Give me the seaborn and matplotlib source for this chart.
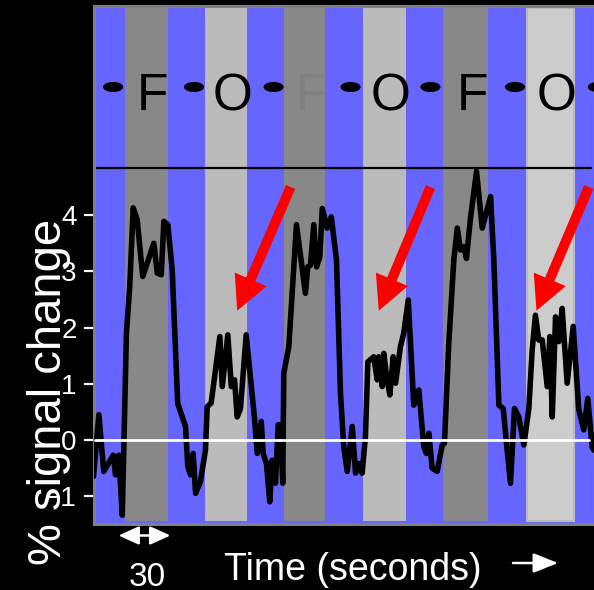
import matplotlib
matplotlib.use("Agg")
import matplotlib.pyplot as plt
import seaborn as sns
import pandas as pd
from matplotlib.patches import Ellipse

# BOLD time course (% signal change) sampled over the run, in seconds
time_s = [0.0, 3.1, 5.9, 11.4, 12.7, 14.6, 16.6, 19.0, 20.9, 22.9, 25.2, 28.4,
          31.9, 34.8, 36.8, 39.1, 40.6, 42.9, 45.4, 48.6, 53.1, 54.4, 56.0,
          57.5, 58.9, 61.7, 64.6, 65.6, 67.9, 72.9, 74.3, 77.5, 79.5, 81.4,
          82.9, 84.8, 88.1, 92.9, 94.5, 96.8, 97.9, 99.8, 101.7, 103.1, 105.0,
          106.6, 107.9, 109.2, 109.8, 112.7, 117.1, 122.3, 123.6, 125.2, 127.1,
          128.7, 130.6, 132.0, 134.8, 137.2, 140.2, 142.5, 144.4, 146.4, 149.3,
          151.2, 153.1, 155.0, 156.9, 158.3, 161.7, 163.7, 164.6, 166.6, 167.5,
          169.1, 171.0, 172.9, 174.3, 177.1, 179.0, 181.6, 184.8, 187.7, 190.6,
          192.1, 193.5, 195.4, 198.3, 201.2, 202.5, 205.0, 207.9, 209.9, 211.8,
          213.7, 215.2, 217.5, 221.0, 224.3, 229.1, 231.0, 233.9, 236.4, 238.3,
          240.6, 242.9, 245.4, 248.3, 251.2, 253.1, 255.0, 256.9, 258.9, 261.8,
          263.3, 264.7, 266.6, 268.5, 270.4, 273.3, 276.8, 280.0, 282.9, 285.2,
          287.7, 288.7]
signal_pct = [-0.65, 0.45, -0.56, -0.27, -0.62, -0.27, -1.34, 1.90, 2.73, 4.13,
              3.92, 2.91, 3.23, 3.50, 2.97, 2.94, 3.89, 3.83, 3.03, 0.65, 0.24,
              -0.47, -0.62, -0.24, -0.95, -0.74, -0.18, 0.59, 0.66, 1.84, 0.95,
              1.87, 0.95, 1.07, 0.41, 0.56, 1.87, 0.39, -0.24, 0.33, -0.24,
              -0.42, -1.10, -0.36, -0.77, 0.27, 0.27, -0.77, 1.19, 1.66, 3.83,
              2.61, 3.08, 3.11, 3.83, 3.08, 3.26, 4.12, 3.77, 3.97, 3.20, 0.83,
              -0.12, -0.56, 0.24, -0.59, -0.42, -0.59, 0.06, 1.39, 1.48, 1.07,
              1.48, 0.95, 1.54, 1.13, 0.80, 1.48, 1.01, 1.66, 1.90, 2.49, 0.62,
              0.89, -0.12, -0.24, 0.12, -0.50, -0.56, -0.09, -0.06, 1.72, 3.20,
              3.77, 3.38, 3.44, 3.23, 3.94, 4.78, 3.77, 4.33, 3.20, 0.62, 0.56,
              -0.06, -0.77, 0.56, 0.41, -0.09, 0.56, 1.60, 2.22, 1.78, 1.78,
              0.95, 1.84, 0.41, 2.19, 1.75, 2.34, 1.01, 2.02, 0.54, 0.18, 0.74,
              -0.12, -0.18]

# Stimulation blocks: F = faces, O = objects
block_onsets = [17.9, 64.6, 110.2, 155.4, 201.9, 250.0]
block_offsets = [42.9, 88.7, 133.7, 180.4, 227.9, 277.0]
block_labels = ["F", "O", "F", "O", "F", "O"]
rest_marks = [11.3, 58.0, 103.9, 148.3, 194.4, 243.2, 291.0]

# Arrows pointing at the object-block responses (tail -> tip)
arrow_tail_t = [113.7, 194.4, 285.8]
arrow_tail_v = [4.50, 4.50, 4.50]
arrow_tip_t = [82.9, 164.6, 255.6]
arrow_tip_v = [2.30, 2.30, 2.30]

ytick_values = [-1, 0, 1, 2, 3, 4]
scale_bar_s = 30

sns.set_style("ticks")
plt.rcParams["font.family"] = ["Liberation Sans", "DejaVu Sans"]

W, H = 594, 590
fig = plt.figure(figsize=(W / 100, H / 100), dpi=100, facecolor="black")
ax = fig.add_axes([93.5 / W, (H - 523.5) / H, (W - 93.5) / W, (523.5 - 5.5) / H])
ax.set_facecolor("#6666ff")

x_max = (W - 93.5) * 0.577
ax.set_xlim(0, x_max)
ax.set_ylim(-1.486, 7.73)

block_fill = {"F": "#888888", "O": "#bbbbbb"}
for i, (on, off, lab) in enumerate(zip(block_onsets, block_offsets, block_labels)):
    fc = block_fill[lab]
    ec = "none"
    if i == len(block_onsets) - 1:
        fc, ec = "#cccccc", "#bbbbbb"
    ax.axvspan(on, off, ymin=0.004, ymax=0.996, facecolor=fc, edgecolor=ec,
               lw=1.5, zorder=0.5)

# Block letters and rest markers along the top strip
label_colors = ["black", "black", "#818181", "black", "black", "black"]
for on, off, lab, col in zip(block_onsets, block_offsets, block_labels, label_colors):
    ax.text((on + off) / 2 + 3.7, 5.87, lab, ha="center", va="baseline",
            fontsize=37, color=col, zorder=3)
for t in rest_marks:
    ax.add_patch(Ellipse((t, 6.28), width=11.6, height=0.18, facecolor="black",
                         edgecolor="none", zorder=3, clip_on=True))

ax.plot([0, 287], [4.84, 4.84], color="black", lw=1.6, zorder=2)

df = pd.DataFrame({"time": time_s, "signal": signal_pct})
sns.lineplot(data=df, x="time", y="signal", ax=ax, color="black", lw=4.0,
             estimator=None, sort=False, zorder=4)

ax.plot([1, 286], [0, 0], color="white", lw=2, zorder=5)

for tt, tv, pt, pv in zip(arrow_tail_t, arrow_tail_v, arrow_tip_t, arrow_tip_v):
    ax.annotate("", xy=(pt, pv), xytext=(tt, tv), annotation_clip=False,
                arrowprops=dict(arrowstyle="simple,head_length=2.45,head_width=2.5,tail_width=0.72",
                                mutation_scale=10, facecolor="red", edgecolor="none",
                                shrinkA=0, shrinkB=0), zorder=6)

ax.set_xticks([])
ax.set_yticks(ytick_values)
ax.set_yticklabels([f"{v}".replace("-", "\u2212") for v in ytick_values])
ax.tick_params(axis="y", colors="white", labelcolor="white", labelsize=20,
               length=7, width=1.6, pad=5)
ax.set_xlabel("")
ax.set_ylabel("")
for side in ("left", "top", "bottom"):
    ax.spines[side].set_color("#808080")
    ax.spines[side].set_linewidth(2.2)
ax.spines["right"].set_visible(False)

# Scale bar under the axis
sb_trans = matplotlib.transforms.blended_transform_factory(ax.transData, fig.transFigure)
sb_y = (H - 535.5) / H
sb_start = 14.4
ax.annotate("", xy=(sb_start, sb_y), xytext=(sb_start + scale_bar_s, sb_y),
            xycoords=sb_trans, textcoords=sb_trans, annotation_clip=False,
            arrowprops=dict(arrowstyle="<|-|>,head_length=0.62,head_width=0.28",
                            mutation_scale=20, color="white", lw=1.8,
                            shrinkA=0, shrinkB=0))
fig.text(147.5 / W, (H - 585.5) / H, f"{scale_bar_s}", color="white", fontsize=24,
         ha="center", va="baseline")

fig.text(352.5 / W, (H - 580) / H, "Time (seconds)", color="white", fontsize=27,
         ha="center", va="baseline")
fig.add_artist(matplotlib.patches.FancyArrowPatch(
    (513 / W, (H - 563) / H), (558 / W, (H - 563) / H), transform=fig.transFigure,
    arrowstyle="-|>,head_length=0.75,head_width=0.3", mutation_scale=20,
    color="white", lw=1.8, shrinkA=0, shrinkB=0))

fig.text(61 / W, (H - 392) / H, "% signal change", color="white", fontsize=34,
         rotation=90, rotation_mode="anchor", ha="center", va="baseline")

fig.savefig("out.png", dpi=100, facecolor="black")
